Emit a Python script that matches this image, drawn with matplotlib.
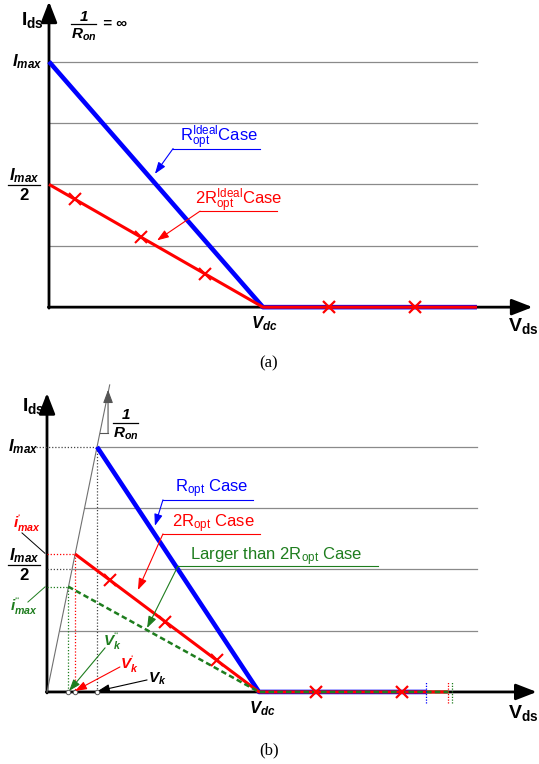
import numpy as np
import matplotlib
matplotlib.use('Agg')
import matplotlib.pyplot as plt

plt.rcParams['font.family'] = ['Liberation Sans', 'DejaVu Sans']
plt.rcParams['mathtext.fontset'] = 'custom'
plt.rcParams['mathtext.rm'] = 'Liberation Sans'
plt.rcParams['mathtext.it'] = 'Liberation Sans:italic'
plt.rcParams['mathtext.bf'] = 'Liberation Sans:bold'
plt.rcParams['mathtext.bfit'] = 'Liberation Sans:italic:bold'
plt.rcParams['mathtext.sf'] = 'Liberation Sans'

# ─── Data (normalised: V_dc = 1, I_max = 1) ──────────────────────────────────
V_DC = 1.0
I_MAX = 1.0
grid_levels = [0.25, 0.5, 0.75, 1.0]

# panel (a): ideal device, R_on = 0
a_blue_v = [0.0, 1.0, 2.0]
a_blue_i = [1.0, 0.0, 0.0]
a_red_v = [0.0, 1.0, 2.0]
a_red_i = [0.5, 0.0, 0.0]
a_cross_slope_v = [0.12, 0.43, 0.73]
a_cross_slope_i = [0.44, 0.285, 0.135]
a_cross_flat_v = [1.31, 1.71]

# panel (b): finite R_on, knee points (V_k, V_k`, V_k``)
b_knee_v = [0.236, 0.132, 0.100]
b_knee_i = [1.0, 0.563, 0.430]
b_end_v = [1.79, 1.89, 1.91]          # blue, red, green swing end
b_cross_slope_v = [0.297, 0.557, 0.80]
b_cross_slope_i = [0.456, 0.287, 0.130]
b_cross_flat_v = [1.27, 1.675]
ron_top = 1.253

BLUE = '#0000ff'
RED = '#ff0000'
GREEN = '#1e7d1e'
GRID = '#8a8a8a'

fig = plt.figure(figsize=(5.39, 7.64), dpi=100)
ax_a = fig.add_axes([0, 380 / 764, 1, 384 / 764])
ax_b = fig.add_axes([0, 0, 1, 384 / 764])
ax_a.set_xlim(-0.229, 2.29)
ax_a.set_ylim(-0.313, 1.251)
ax_b.set_xlim(-0.2217, 2.3208)
ax_b.set_ylim(-0.294, 1.273)
for ax in (ax_a, ax_b):
    ax.axis('off')


def axes_arrows(ax, xtip, ytip):
    sty = dict(arrowstyle='-|>,head_length=0.9,head_width=0.35', lw=2.0,
               color='k', shrinkA=0, shrinkB=0, mutation_scale=14)
    ax.annotate('', xy=(xtip, 0), xytext=(-0.003, 0), arrowprops=sty, zorder=2)
    ax.annotate('', xy=(0, ytip), xytext=(0, -0.004), arrowprops=sty, zorder=2)


def pointer(ax, start, tip, color):
    ax.annotate('', xy=tip, xytext=start,
                arrowprops=dict(arrowstyle='-|>,head_length=0.7,head_width=0.25',
                                lw=0.8, color=color, shrinkA=0, shrinkB=0,
                                mutation_scale=10), zorder=8)


def fraction(ax, num, den, xc, y_num, y_bar, y_den, x0, x1, fs):
    ax.text(xc, y_num, num, fontsize=fs, ha='center', va='center')
    ax.plot([x0, x1], [y_bar, y_bar], color='k', lw=0.9)
    ax.text(xc, y_den, den, fontsize=fs, ha='center', va='center')


IMAX_TXT = r'$\mathbfit{I}_{\mathbfit{max}}$'
RON_TXT = r'$\mathbfit{R}_{\mathbfit{on}}$'
ONE_TXT = r'$\mathbfit{1}$'
TWO_TXT = r'$\mathbf{2}$'

# ─── Panel (a) ───────────────────────────────────────────────────────────────
for lvl in grid_levels:
    ax_a.plot([0, 2.0], [lvl, lvl], color=GRID, lw=0.9, zorder=1)
axes_arrows(ax_a, 2.26, 1.245)

ax_a.plot(a_blue_v, a_blue_i, color=BLUE, lw=3.3, solid_capstyle='butt', zorder=3)
ax_a.plot(a_red_v, a_red_i, color=RED, lw=2.2, solid_capstyle='butt', zorder=4)
ax_a.plot(a_cross_slope_v, a_cross_slope_i, ls='none', marker='x',
          ms=9, mew=1.5, color=RED, zorder=5)
ax_a.plot(a_cross_flat_v, [0] * len(a_cross_flat_v), ls='none', marker='x',
          ms=8, mew=1.6, color=RED, zorder=5)

ax_a.text(-0.075, 1.17, r'$\mathbf{I}_{\mathbf{ds}}$', fontsize=14,
          ha='center', va='center')
fraction(ax_a, ONE_TXT, RON_TXT, 0.162, 1.183, 1.152, 1.108, 0.103, 0.220, 11)
ax_a.text(0.308, 1.152, '= ∞', fontsize=11, fontweight='bold', fontstyle='italic',
          ha='center', va='center')
ax_a.text(-0.103, 1.0, IMAX_TXT, fontsize=12, ha='center', va='center')
fraction(ax_a, IMAX_TXT, TWO_TXT, -0.117, 0.535, 0.496, 0.455, -0.192, -0.042, 12)
ax_a.text(1.005, -0.066, r'$\mathbfit{V}_{\mathbfit{dc}}$', fontsize=12,
          ha='center', va='center')
ax_a.text(2.215, -0.078, r'$\mathbf{V}_{\mathbf{ds}}$', fontsize=14,
          ha='center', va='center')
ax_a.text(1.028, -0.23, '(a)', fontsize=12, family='Liberation Serif',
          ha='center', va='center')

ax_a.text(0.612, 0.675, r'$\mathrm{R}_{\mathrm{opt}}^{\mathrm{Ideal}}$Case',
          fontsize=12, color=BLUE, ha='left', va='baseline')
ax_a.plot([0.58, 0.986], [0.646, 0.646], color=BLUE, lw=0.8, zorder=6)
pointer(ax_a, (0.58, 0.646), (0.495, 0.543), BLUE)
ax_a.text(0.682, 0.416, r'2$\mathrm{R}_{\mathrm{opt}}^{\mathrm{Ideal}}$Case',
          fontsize=12, color=RED, ha='left', va='baseline')
ax_a.plot([0.706, 1.065], [0.391, 0.391], color=RED, lw=0.8, zorder=6)
pointer(ax_a, (0.706, 0.391), (0.505, 0.272), RED)

# ─── Panel (b) ───────────────────────────────────────────────────────────────
vk = b_knee_v[0]
for lvl in grid_levels:
    ax_b.plot([lvl * vk / I_MAX, 2.03], [lvl, lvl], color=GRID, lw=0.9, zorder=1)
axes_arrows(ax_b, 2.31, 1.22)

# on-resistance line and slope triangle
ax_b.plot([0, ron_top * vk / I_MAX], [0, ron_top], color='#707070', lw=0.8, zorder=2)
ax_b.plot([0.249, 0.288], [1.057, 1.057], color='#555555', lw=0.8, zorder=2)
ax_b.annotate('', xy=(0.288, 1.233), xytext=(0.288, 1.057),
              arrowprops=dict(arrowstyle='-|>,head_length=0.8,head_width=0.3',
                              lw=0.8, color='#555555', shrinkA=0, shrinkB=0,
                              mutation_scale=10))
fraction(ax_b, ONE_TXT, RON_TXT, 0.37, 1.13, 1.098, 1.055, 0.311, 0.429, 11)

# dotted projections of the knees
dot_cols = ['#444444', RED, GREEN]
for v, i, c in zip(b_knee_v, b_knee_i, dot_cols):
    x0 = -0.05 if c == '#444444' else 0.0
    ax_b.plot([x0, v], [i, i], color=c, lw=0.9, ls=(0, (1, 1.5)), zorder=2)
    ax_b.plot([v, v], [i, 0], color=c, lw=0.9, ls=(0, (1, 1.5)), zorder=2)
ax_b.plot([0, 0.5 * vk], [0.5, 0.5], color='#444444', lw=0.9, ls=(0, (1, 1.5)),
          zorder=2)

ax_b.plot([b_knee_v[0], V_DC, b_end_v[0]], [b_knee_i[0], 0, 0], color=BLUE, lw=3.3,
          solid_capstyle='butt', zorder=3)
ax_b.plot([b_knee_v[1], V_DC, b_end_v[1]], [b_knee_i[1], 0, 0], color=RED, lw=2.2,
          solid_capstyle='butt', zorder=4)
ax_b.plot([b_knee_v[2], V_DC, b_end_v[2]], [b_knee_i[2], 0, 0], color=GREEN, lw=1.8,
          ls=(0, (2.2, 1.3)), zorder=5)
ax_b.plot(b_knee_v, [0] * 3, ls='none', marker='o', ms=3.2, mfc='white',
          mec='#555555', mew=0.7, zorder=6)
for v, c in zip(b_end_v, [BLUE, RED, GREEN]):
    ax_b.plot([v, v], [-0.045, 0.045], color=c, lw=0.9, ls=(0, (1, 1.2)), zorder=6)

ax_b.plot(b_cross_slope_v, b_cross_slope_i, ls='none', marker='x',
          ms=9, mew=1.5, color=RED, zorder=7)
ax_b.plot(b_cross_flat_v, [0] * len(b_cross_flat_v), ls='none', marker='x',
          ms=8, mew=1.6, color=RED, zorder=7)

ax_b.text(-0.066, 1.167, r'$\mathbf{I}_{\mathbf{ds}}$', fontsize=14,
          ha='center', va='center')
ax_b.text(-0.113, 1.0, IMAX_TXT, fontsize=12, ha='center', va='center')
fraction(ax_b, IMAX_TXT, TWO_TXT, -0.108, 0.555, 0.518, 0.477, -0.184, -0.033, 12)
ax_b.text(-0.094, 0.686, r'$\mathbfit{i}^{‘}_{\mathbfit{max}}$', fontsize=11,
          color=RED, ha='center', va='center')
ax_b.plot([-0.118, -0.01], [0.649, 0.566], color='k', lw=0.7)
ax_b.text(-0.108, 0.347, r'$\mathbfit{i}^{‘‘}_{\mathbfit{max}}$', fontsize=11,
          color=GREEN, ha='center', va='center')
ax_b.plot([-0.09, -0.009], [0.367, 0.429], color=GREEN, lw=0.7)

ax_b.text(1.014, -0.069, r'$\mathbfit{V}_{\mathbfit{dc}}$', fontsize=12,
          ha='center', va='center')
ax_b.text(2.245, -0.086, r'$\mathbf{V}_{\mathbf{ds}}$', fontsize=14,
          ha='center', va='center')
ax_b.text(1.047, -0.237, '(b)', fontsize=12, family='Liberation Serif',
          ha='center', va='center')

ax_b.text(0.604, 0.816, r'$\mathrm{R}_{\mathrm{opt}}$ Case', fontsize=12,
          color=BLUE, ha='left', va='baseline')
ax_b.plot([0.547, 0.972], [0.784, 0.784], color=BLUE, lw=0.8, zorder=6)
pointer(ax_b, (0.547, 0.784), (0.509, 0.678), BLUE)
ax_b.text(0.59, 0.673, r'2$\mathrm{R}_{\mathrm{opt}}$ Case', fontsize=12,
          color=RED, ha='left', va='baseline')
ax_b.plot([0.547, 1.005], [0.645, 0.645], color=RED, lw=0.8, zorder=6)
pointer(ax_b, (0.547, 0.645), (0.429, 0.416), RED)
ax_b.text(0.675, 0.539, r'Larger than 2$\mathrm{R}_{\mathrm{opt}}$ Case', fontsize=12,
          color=GREEN, ha='left', va='baseline')
ax_b.plot([0.618, 1.561], [0.514, 0.514], color=GREEN, lw=0.8, zorder=6)
pointer(ax_b, (0.618, 0.514), (0.472, 0.261), GREEN)

ax_b.text(0.307, 0.204, r'$\mathbfit{V}_{\mathbfit{k}}^{‘‘}$', fontsize=11,
          color=GREEN, ha='center', va='center')
pointer(ax_b, (0.274, 0.18), (0.104, 0.004), GREEN)
ax_b.text(0.39, 0.11, r'$\mathbfit{V}_{\mathbfit{k}}^{‘}$', fontsize=11,
          color=RED, ha='center', va='center')
pointer(ax_b, (0.344, 0.102), (0.132, 0.004), RED)
ax_b.text(0.519, 0.053, r'$\mathbfit{V}_{\mathbfit{k}}$', fontsize=11,
          color='k', ha='center', va='center')
pointer(ax_b, (0.472, 0.049), (0.24, 0.004), 'k')

fig.savefig('out.png', dpi=100)
